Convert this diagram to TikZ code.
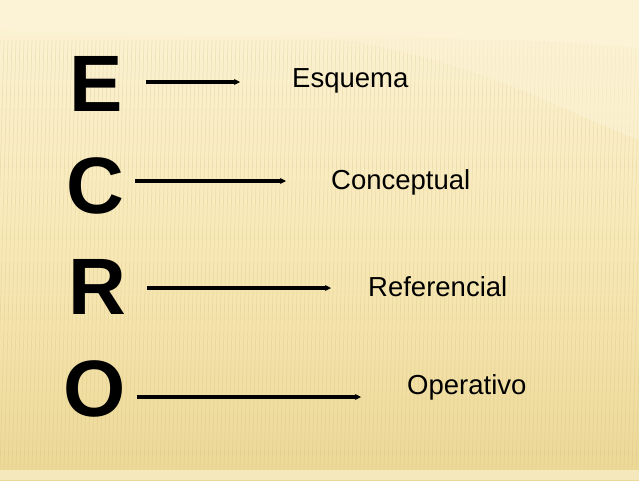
\documentclass[tikz,border=0pt]{standalone}
\usepackage{fontspec}
\setmainfont{Liberation Sans}
\usetikzlibrary{arrows.meta}
\definecolor{bgtop}{RGB}{252,243,214}
\definecolor{bgmid}{RGB}{248,233,184}
\definecolor{bgbot}{RGB}{236,216,150}
\definecolor{stripe}{RGB}{205,180,110}
\tikzset{
  big/.style={inner sep=0pt, font=\fontsize{80}{80}\selectfont\bfseries, text=black},
  word/.style={inner sep=0pt, anchor=west, font=\fontsize{27.5}{28}\selectfont, text=black},
  conn/.style={line width=3.2pt, -{Stealth[length=6pt,width=6pt]}}
}
\begin{document}
\begin{tikzpicture}[x=1pt,y=-1pt]
\useasboundingbox (0,0) rectangle (639,480);
% background
\shade[top color=bgtop, bottom color=bgbot, middle color=bgmid] (0,0) rectangle (639,480);
\foreach \x in {0,4,...,660} {
  \draw[stripe, opacity=0.25, line width=0.7pt] (\x,40) -- (\x-12,470);
}
\fill[bgtop] (0,0) -- (0,30) .. controls (200,42) and (450,30) .. (639,48) -- (639,0) -- cycle;
\fill[bgtop, opacity=0.55] (330,38) .. controls (480,60) and (560,110) .. (639,140) -- (639,40) -- cycle;
\fill[bgtop, opacity=0.6] (0,470) rectangle (639,480);
% letters
\node[big] (e) at (96,83.5) {E};
\node[big] (c) at (95,186) {C};
\node[big] (r) at (97,286.5) {R};
\node[big] (o) at (94.5,388.5) {O};
% words
\node[word] (w1) at (292,81) {Esquema};
\node[word] (w2) at (331,182) {Conceptual};
\node[word] (w3) at (368,287) {Referencial};
\node[word] (w4) at (407,387) {Operativo};
% connectors
\coordinate (a1) at (240,82);
\coordinate (a2) at (286,181);
\coordinate (a3) at (331,288);
\coordinate (a4) at (361,397);
\draw[conn] (e.east |- a1) ++(23,0) -- (a1);
\draw[conn] (c.east |- a2) ++(11,0) -- (a2);
\draw[conn] (r.east |- a3) ++(21,0) -- (a3);
\draw[conn] (o.east |- a4) ++(11,0) -- (a4);
\end{tikzpicture}
\end{document}
